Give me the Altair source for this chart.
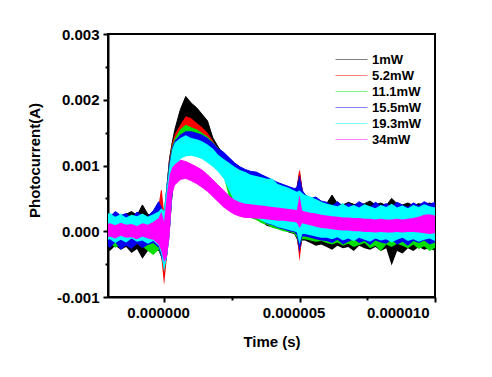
import altair as alt
import pandas as pd

# ---- data (time in microseconds, current in mA) ----
T_US = [-2.2, -2.0, -1.8, -1.6, -1.4, -1.2, -1.0, -0.8, -0.6, -0.4, -0.2,
        -0.1, 0.0, 0.1, 0.2, 0.3, 0.4,
        0.6, 0.8, 1.0, 1.2, 1.4, 1.6, 1.8, 2.0, 2.2, 2.4, 2.6, 2.8, 3.0, 3.2, 3.4, 3.6, 3.8, 4.0, 4.2, 4.4, 4.6, 4.8,
        4.9, 5.0, 5.1,
        5.2, 5.4, 5.6, 5.8, 6.0, 6.2, 6.4, 6.6, 6.8, 7.0, 7.2, 7.4, 7.6, 7.8, 8.0, 8.2, 8.4, 8.6, 8.8, 9.0, 9.2, 9.4, 9.6, 9.8, 10.0]

SERIES = ["1mW", "5.2mW", "11.1mW", "15.5mW", "19.3mW", "34mW"]
COLORS = ["#000000", "#ff0000", "#00e000", "#0000ee", "#00ffff", "#ff00ff"]

HI_1 = [0.25, 0.20, 0.28, 0.22, 0.26, 0.30, 0.24, 0.40, 0.26, 0.22, 0.35,
        0.40, 0.25, 0.65, 1.10, 1.35, 1.55,
        1.85, 2.05, 1.95, 1.88, 1.78, 1.68, 1.42, 1.28, 1.16, 1.08, 1.00, 0.95, 0.90, 0.86, 0.82, 0.78, 0.72, 0.68, 0.65, 0.62, 0.60, 0.58,
        0.65, 0.88, 0.62,
        0.50, 0.45, 0.48, 0.44, 0.42, 0.55, 0.42, 0.40, 0.44, 0.41, 0.40, 0.42, 0.46, 0.40, 0.43, 0.39, 0.50, 0.42, 0.40, 0.43, 0.39, 0.42, 0.40, 0.43, 0.39]
LO_1 = [-0.25, -0.30, -0.22, -0.28, -0.24, -0.33, -0.27, -0.42, -0.30, -0.26, -0.30,
        -0.40, -0.60, -0.40, 0.00, 0.55, 1.00,
        1.18, 1.22, 1.24, 1.22, 1.18, 1.12, 1.05, 0.97, 0.87, 0.58, 0.42, 0.30, 0.24, 0.22, 0.18, 0.14, 0.08, 0.06, 0.04, 0.02, -0.02, -0.04,
        -0.12, -0.35, -0.14,
        -0.14, -0.18, -0.22, -0.20, -0.24, -0.28, -0.22, -0.26, -0.24, -0.30, -0.22, -0.26, -0.28, -0.24, -0.30, -0.26, -0.52, -0.30, -0.34, -0.26, -0.30, -0.24, -0.28, -0.26, -0.30]

HI_5 = [0.22, 0.18, 0.25, 0.20, 0.23, 0.19, 0.24, 0.21, 0.20, 0.26, 0.35,
        0.62, 0.20, 0.60, 1.08, 1.33, 1.48,
        1.62, 1.75, 1.72, 1.65, 1.58, 1.50, 1.38, 1.24, 1.14, 1.06, 0.98, 0.93, 0.88, 0.84, 0.80, 0.76, 0.72, 0.68, 0.64, 0.62, 0.60, 0.57,
        0.62, 0.92, 0.60,
        0.52, 0.48, 0.46, 0.44, 0.42, 0.40, 0.38, 0.41, 0.37, 0.40, 0.36, 0.39, 0.37, 0.35, 0.38, 0.36, 0.40, 0.37, 0.38, 0.35, 0.39, 0.36, 0.38, 0.37, 0.35]
LO_5 = [-0.15, -0.18, -0.13, -0.17, -0.12, -0.16, -0.14, -0.19, -0.15, -0.18, -0.20,
        -0.40, -0.82, -0.42, -0.05, 0.52, 0.98,
        1.16, 1.20, 1.22, 1.20, 1.16, 1.10, 1.03, 0.95, 0.85, 0.60, 0.44, 0.31, 0.25, 0.21, 0.19, 0.15, 0.10, 0.08, 0.05, 0.03, 0.01, -0.02,
        -0.06, -0.46, -0.08,
        -0.08, -0.10, -0.12, -0.11, -0.14, -0.13, -0.15, -0.12, -0.16, -0.14, -0.17, -0.13, -0.15, -0.18, -0.14, -0.16, -0.13, -0.17, -0.15, -0.19, -0.14, -0.16, -0.20, -0.15, -0.17]

HI_11 = [0.20, 0.24, 0.18, 0.22, 0.19, 0.25, 0.21, 0.17, 0.23, 0.20, 0.30,
         0.33, 0.22, 0.62, 1.05, 1.30, 1.42,
         1.55, 1.62, 1.58, 1.55, 1.50, 1.44, 1.36, 1.26, 1.18, 1.10, 1.02, 0.96, 0.92, 0.88, 0.85, 0.82, 0.78, 0.74, 0.70, 0.68, 0.65, 0.62,
         0.62, 0.75, 0.60,
         0.55, 0.50, 0.47, 0.44, 0.42, 0.40, 0.38, 0.41, 0.37, 0.40, 0.36, 0.39, 0.37, 0.35, 0.38, 0.36, 0.40, 0.37, 0.38, 0.35, 0.39, 0.36, 0.38, 0.37, 0.35]
LO_11 = [-0.22, -0.18, -0.25, -0.20, -0.16, -0.24, -0.19, -0.23, -0.30, -0.36, -0.28,
         -0.40, -0.55, -0.40, -0.05, 0.50, 0.95,
         1.12, 1.18, 1.20, 1.18, 1.14, 1.08, 1.01, 0.93, 0.83, 0.52, 0.40, 0.30, 0.25, 0.20, 0.17, 0.12, 0.10, 0.05, 0.03, 0.00, -0.01, -0.03,
         -0.10, -0.25, -0.12,
         -0.12, -0.14, -0.16, -0.15, -0.18, -0.20, -0.17, -0.22, -0.19, -0.24, -0.21, -0.18, -0.26, -0.22, -0.30, -0.20, -0.24, -0.19, -0.22, -0.26, -0.20, -0.27, -0.23, -0.30, -0.25]

HI_15 = [0.28, 0.22, 0.30, 0.24, 0.27, 0.21, 0.29, 0.25, 0.23, 0.31, 0.45,
         0.38, 0.20, 0.65, 1.05, 1.28, 1.38,
         1.47, 1.52, 1.52, 1.50, 1.47, 1.42, 1.35, 1.26, 1.20, 1.12, 1.04, 0.98, 0.94, 0.91, 0.90, 0.86, 0.82, 0.78, 0.74, 0.71, 0.68, 0.65,
         0.66, 0.85, 0.62,
         0.56, 0.50, 0.52, 0.46, 0.44, 0.40, 0.45, 0.38, 0.43, 0.39, 0.45, 0.40, 0.37, 0.44, 0.39, 0.42, 0.38, 0.44, 0.40, 0.37, 0.43, 0.39, 0.45, 0.41, 0.44]
LO_15 = [-0.20, -0.25, -0.17, -0.28, -0.22, -0.27, -0.19, -0.26, -0.21, -0.18, -0.25,
         -0.40, -0.55, -0.42, -0.05, 0.50, 0.95,
         1.15, 1.20, 1.22, 1.20, 1.16, 1.10, 1.03, 0.95, 0.85, 0.66, 0.48, 0.34, 0.27, 0.23, 0.21, 0.17, 0.11, 0.09, 0.05, 0.03, 0.00, -0.01,
         -0.06, -0.32, -0.08,
         -0.08, -0.10, -0.12, -0.14, -0.15, -0.18, -0.13, -0.20, -0.16, -0.12, -0.18, -0.15, -0.21, -0.14, -0.17, -0.19, -0.13, -0.20, -0.16, -0.22, -0.15, -0.18, -0.14, -0.20, -0.17]

HI_19 = [0.24, 0.27, 0.22, 0.26, 0.21, 0.25, 0.23, 0.27, 0.22, 0.26, 0.30,
         0.35, 0.30, 0.65, 1.00, 1.25, 1.35,
         1.42, 1.46, 1.42, 1.40, 1.37, 1.32, 1.26, 1.16, 1.10, 1.04, 0.98, 0.93, 0.90, 0.86, 0.84, 0.82, 0.80, 0.79, 0.72, 0.69, 0.66, 0.62,
         0.60, 0.62, 0.58,
         0.55, 0.52, 0.49, 0.45, 0.42, 0.40, 0.38, 0.42, 0.37, 0.40, 0.36, 0.41, 0.38, 0.35, 0.40, 0.37, 0.42, 0.36, 0.39, 0.35, 0.40, 0.37, 0.41, 0.38, 0.36]
LO_19 = [-0.15, -0.12, -0.18, -0.13, -0.17, -0.11, -0.16, -0.14, -0.19, -0.15, -0.22,
         -0.35, -0.62, -0.40, -0.10, 0.60, 0.90,
         1.10, 1.14, 1.15, 1.13, 1.10, 1.04, 0.98, 0.90, 0.80, 0.62, 0.45, 0.32, 0.26, 0.22, 0.20, 0.16, 0.12, 0.10, 0.06, 0.04, 0.02, 0.00,
         -0.02, -0.20, -0.04,
         -0.04, -0.06, -0.08, -0.10, -0.10, -0.12, -0.09, -0.14, -0.11, -0.15, -0.10, -0.13, -0.16, -0.11, -0.14, -0.12, -0.17, -0.13, -0.10, -0.15, -0.12, -0.16, -0.13, -0.11, -0.15]

HI_34 = [0.10, 0.12, 0.09, 0.13, 0.10, 0.11, 0.08, 0.12, 0.10, 0.14, 0.20,
         0.30, 0.15, 0.55, 0.85, 0.97, 1.02,
         1.08, 1.06, 1.02, 0.98, 0.93, 0.86, 0.78, 0.70, 0.62, 0.54, 0.48, 0.44, 0.42, 0.41, 0.40, 0.39, 0.38, 0.37, 0.36, 0.35, 0.34, 0.33,
         0.32, 0.55, 0.31,
         0.30, 0.28, 0.27, 0.25, 0.24, 0.23, 0.22, 0.21, 0.21, 0.20, 0.20, 0.19, 0.19, 0.18, 0.19, 0.18, 0.18, 0.19, 0.18, 0.19, 0.20, 0.22, 0.25, 0.26, 0.24]
LO_34 = [-0.10, -0.08, -0.11, -0.07, -0.10, -0.09, -0.12, -0.08, -0.11, -0.13, -0.20,
         -0.30, -0.47, -0.40, -0.10, 0.55, 0.70,
         0.78, 0.80, 0.76, 0.72, 0.66, 0.60, 0.52, 0.44, 0.36, 0.30, 0.25, 0.22, 0.20, 0.20, 0.19, 0.19, 0.18, 0.17, 0.16, 0.16, 0.15, 0.14,
         0.13, 0.05, 0.12,
         0.11, 0.09, 0.07, 0.05, 0.04, 0.03, 0.02, 0.01, 0.01, 0.00, 0.00, -0.01, -0.01, -0.02, -0.01, -0.02, -0.02, -0.01, -0.02, -0.01, -0.01, -0.02, -0.03, -0.04, -0.03]

X_TICKS = [0.0, 2.5e-6, 5e-6, 7.5e-6, 1e-5]
Y_TICKS = [-0.001, -0.0005, 0.0, 0.0005, 0.001, 0.0015, 0.002, 0.0025, 0.003]

HIS = [HI_1, HI_5, HI_11, HI_15, HI_19, HI_34]
LOS = [LO_1, LO_5, LO_11, LO_15, LO_19, LO_34]

frames = []
for name, hi, lo in zip(SERIES, HIS, LOS):
    frames.append(pd.DataFrame({
        "t": [v * 1e-6 for v in T_US],
        "hi": [v * 1e-3 for v in hi],
        "lo": [v * 1e-3 for v in lo],
        "series": name,
    }))
all_df = pd.concat(frames, ignore_index=True)

FONT = "Liberation Sans"
x_minor = "abs(datum.value*2e5 - round(datum.value*2e5)) > 0.1"
y_minor = "abs(datum.value*1000 - round(datum.value*1000)) > 0.1"

x_axis = alt.Axis(
    values=X_TICKS, title="Time (s)",
    labelExpr=f"{x_minor} ? '' : format(abs(datum.value), '.6f')",
    tickSize={"condition": {"test": x_minor, "value": 3}, "value": 5},
    labelPadding=3, labelOffset=-6, titlePadding=14,
)
y_axis = alt.Axis(
    values=Y_TICKS, title="Photocurrent(A)",
    labelExpr=f"{y_minor} ? '' : (datum.value < -1e-9 ? '-' + format(-datum.value, '.3f') : format(abs(datum.value), '.3f'))",
    tickSize={"condition": {"test": y_minor, "value": 3}, "value": 5},
    labelPadding=4, titlePadding=14, titleY=126,
)

x_enc = alt.X("t:Q", scale=alt.Scale(domain=[-2.07e-6, 1e-5], nice=False, zero=False), axis=x_axis)
y_enc = alt.Y("hi:Q", scale=alt.Scale(domain=[-0.001, 0.003], nice=False, zero=False), axis=y_axis)

legend = alt.Legend(
    title=None, orient="none", legendX=237, legendY=19,
    symbolType="M-4,0H4", symbolSize=64, symbolStrokeWidth=0.5,
    labelFont=FONT, labelFontSize=13, labelFontWeight="bold", labelColor="black",
    labelOffset=14, rowPadding=2, padding=0,
)

# thin edge lines (drawn first, covered by the bands) - they carry the legend
edge = alt.Chart(all_df).mark_line(clip=True, strokeWidth=1).encode(
    x=x_enc, y=y_enc,
    stroke=alt.Stroke("series:N", scale=alt.Scale(domain=SERIES, range=COLORS), legend=legend),
)

layers = [edge]
for df in frames:
    layers.append(
        alt.Chart(df).mark_area(clip=True, opacity=1, interpolate="linear").encode(
            x=x_enc, y=y_enc, y2="lo:Q",
            fill=alt.Fill("series:N", scale=alt.Scale(domain=SERIES, range=COLORS), legend=None),
        )
    )

chart = alt.layer(*layers).properties(
    width=327, height=263, background="white",
    padding={"left": 100, "top": 26, "right": 40, "bottom": 60},
    autosize=alt.AutoSizeParams(type="none"),
).configure_view(
    stroke="black", strokeWidth=2,
).configure_axis(
    grid=False, domainColor="black", domainWidth=2, tickColor="black", tickWidth=2,
    labelFont=FONT, labelFontSize=15, labelFontWeight="bold", labelColor="black",
    titleFont=FONT, titleFontSize=15, titleFontWeight="bold", titleColor="black",
)

chart.save("out.html", embed_options={"renderer": "svg", "actions": False})
